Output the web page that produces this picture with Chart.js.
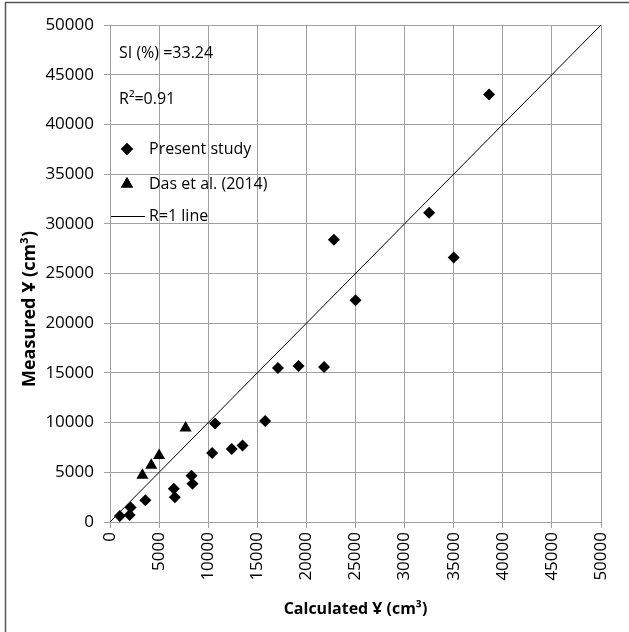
<!DOCTYPE html>
<html>
<head>
<meta charset="utf-8">
<script src="https://cdn.jsdelivr.net/npm/chart.js@4/dist/chart.umd.min.js"></script>
<style>
  html, body { margin: 0; padding: 0; background: #fff; }
  #wrap { width: 629px; height: 632px; }
</style>
</head>
<body>
<div id="wrap"><canvas id="c" width="629" height="632"></canvas></div>
<script>
// Present study (calculated, measured)
const presentX = [38600, 32500, 22800, 35000, 25000, 17100, 19200, 21800, 15800, 10700, 10400, 12400, 13500, 8300, 8400, 6500, 6600, 3600, 2100, 2000, 1000];
const presentY = [43000, 31100, 28400, 26600, 22300, 15500, 15700, 15600, 10150, 9900, 6950, 7350, 7700, 4650, 3850, 3350, 2500, 2200, 1450, 700, 600];
// Das et al. (2014)
const dasX = [3300, 4200, 5000, 7700];
const dasY = [4700, 5700, 6700, 9450];
// R=1 line ends
const lineX = [0, 50000];
const lineY = [0, 50000];

const axisTicks = [0, 5000, 10000, 15000, 20000, 25000, 30000, 35000, 40000, 45000, 50000];
const infoTexts = ['SI (%) =33.24', 'R\u00B2=0.91'];
const labels = ['Present study', 'Das et al. (2014)', 'R=1 line'];
const xTitle = 'Calculated \u04B0 (cm\u00B3)';
const yTitle = 'Measured \u04B0 (cm\u00B3)';

const FONT = '"Open Sans", "Liberation Sans", sans-serif';
const GRID = '#a0a0a0';

const toPts = (xs, ys) => xs.map((x, i) => ({ x: x, y: ys[i] }));

// Легенда и подписи внутри области графика, рамка и заголовки осей
const decor = {
  id: 'decor',
  beforeDraw(chart) {
    const ctx = chart.ctx;
    ctx.save();
    ctx.strokeStyle = '#555';
    ctx.lineWidth = 1.5;
    ctx.beginPath();
    ctx.moveTo(5.5, 640);
    ctx.lineTo(5.5, 2.5);
    ctx.lineTo(640, 2.5);
    ctx.stroke();
    ctx.restore();
  },
  afterDraw(chart) {
    const ctx = chart.ctx;
    const a = chart.chartArea;
    ctx.save();
    ctx.fillStyle = '#000';
    ctx.textBaseline = 'middle';
    ctx.font = '16px ' + FONT;
    ctx.textAlign = 'left';
    ctx.fillText(infoTexts[0], a.left + 9, a.top + 28);
    ctx.fillText(infoTexts[1], a.left + 9, a.top + 74);

    const rows = [a.top + 124, a.top + 159, a.top + 191];
    const ds = chart.data.datasets;
    for (let i = 0; i < ds.length; i++) {
      const y = rows[i];
      if (ds[i].type === 'line') {
        ctx.strokeStyle = '#000';
        ctx.lineWidth = 1;
        ctx.beginPath();
        ctx.moveTo(a.left + 1, y + 0.5);
        ctx.lineTo(a.left + 35, y + 0.5);
        ctx.stroke();
      } else {
        Chart.helpers.drawPoint(ctx, {
          pointStyle: ds[i].pointStyle,
          radius: ds[i].pointRadius,
          borderWidth: 0
        }, a.left + 17, y);
        ctx.fill();
      }
      ctx.fillStyle = '#000';
      ctx.fillText(ds[i].label, a.left + 39, y);
    }

    ctx.font = 'bold 16px ' + FONT;
    ctx.textAlign = 'center';
    ctx.fillText(xTitle, (a.left + a.right) / 2, 609);
    ctx.font = 'bold 18px ' + FONT;
    ctx.translate(30, 309);
    ctx.rotate(-Math.PI / 2);
    ctx.fillText(yTitle, 0, 0);
    ctx.restore();
  }
};

const tickCfg = {
  min: 0, max: 50000,
  afterBuildTicks: s => { s.ticks = axisTicks.map(v => ({ value: v })); }
};

new Chart(document.getElementById('c'), {
  type: 'scatter',
  data: {
    datasets: [
      {
        label: labels[0],
        data: toPts(presentX, presentY),
        pointStyle: 'rectRot',
        pointRadius: 6,
        backgroundColor: '#000',
        borderColor: '#000',
        borderWidth: 0
      },
      {
        label: labels[1],
        data: toPts(dasX, dasY),
        pointStyle: 'triangle',
        pointRadius: 7,
        backgroundColor: '#000',
        borderColor: '#000',
        borderWidth: 0
      },
      {
        type: 'line',
        label: labels[2],
        data: toPts(lineX, lineY),
        borderColor: '#000',
        borderWidth: 1,
        pointRadius: 0,
        fill: false
      }
    ]
  },
  options: {
    responsive: false,
    animation: false,
    layout: { padding: { left: 0, top: 25, right: 28, bottom: 0 } },
    plugins: {
      legend: { display: false },
      tooltip: { enabled: false }
    },
    scales: {
      x: {
        type: 'linear',
        ...tickCfg,
        afterFit: s => { s.height = 110; },
        grid: { color: GRID, tickLength: 6, lineWidth: 1 },
        border: { color: GRID },
        ticks: {
          color: '#000',
          font: { family: FONT, size: 17 },
          minRotation: 90, maxRotation: 90,
          padding: 4,
          callback: v => String(v)
        }
      },
      y: {
        type: 'linear',
        ...tickCfg,
        afterFit: s => { s.width = 110; },
        grid: { color: GRID, tickLength: 6, lineWidth: 1 },
        border: { color: GRID },
        ticks: {
          color: '#000',
          font: { family: FONT, size: 17 },
          padding: 10,
          callback: v => String(v)
        }
      }
    }
  },
  plugins: [decor]
});
</script>
</body>
</html>
